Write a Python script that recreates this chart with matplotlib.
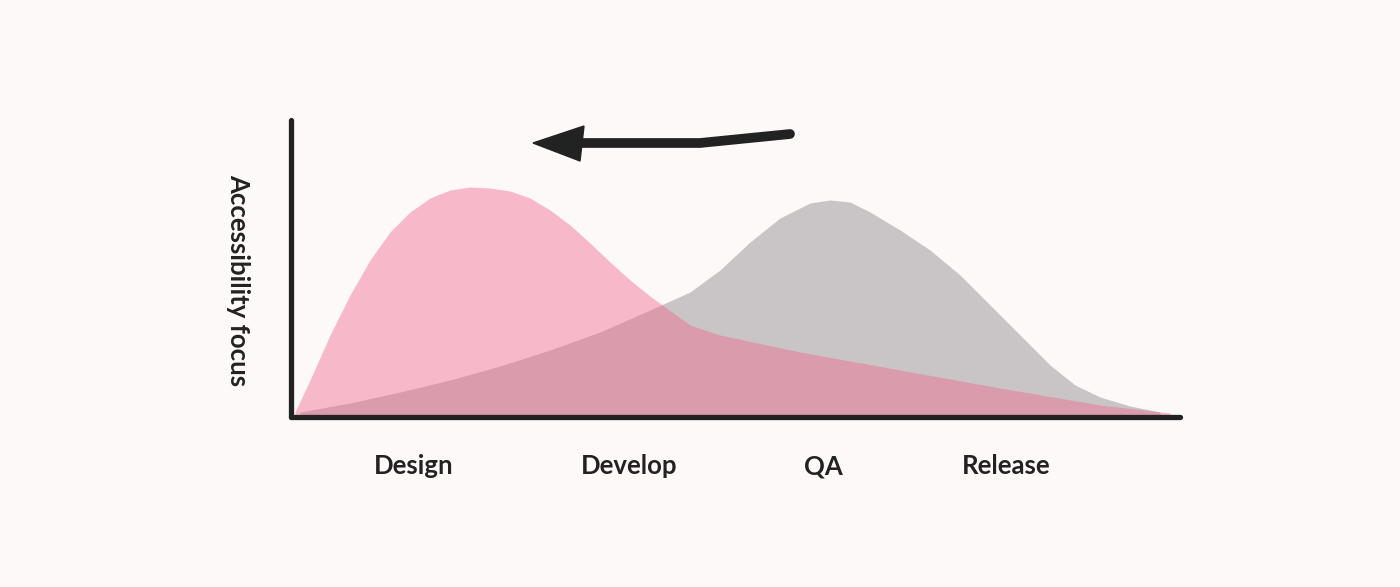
import matplotlib
matplotlib.use("Agg")
import matplotlib.pyplot as plt
from matplotlib.patches import Polygon
from matplotlib.lines import Line2D

design_x = [4, 19, 39, 59, 79, 99, 119, 139, 159, 179, 199, 219, 239, 259, 279, 299, 319, 339, 359, 374, 399, 429, 509, 609, 709, 809, 879]
design_y = [5, 37, 82, 122, 157, 185, 205, 219, 227, 230, 229, 226, 219, 207, 192, 174, 155, 137, 121, 110, 92, 82, 65, 47, 29, 12, 4]
qa_x = [9, 59, 109, 159, 209, 259, 309, 359, 399, 429, 459, 489, 519, 539, 559, 579, 609, 639, 669, 699, 729, 759, 784, 809, 839, 869]
qa_y = [5, 14, 25, 37, 51, 67, 85, 107, 125, 147, 175, 199, 214, 217, 215, 205, 187, 167, 142, 112, 82, 52, 32, 20, 11, 5]
phases = ["Design", "Develop", "QA", "Release"]
phase_px = [414, 629, 823, 1006]

bg = "#fdf9f9"
fig = plt.figure(figsize=(14, 5.87), dpi=100, facecolor=bg)
ax = fig.add_axes([291/1400, (587-417)/587, (1180-291)/1400, (417-120)/587])
ax.set_facecolor(bg)
ax.fill_between(qa_x, 0, qa_y, color="#c9c5c6", lw=0)
ax.fill_between(design_x, 0, design_y, color="#f1648c", alpha=0.43, lw=0)
ax.set_xlim(0, 889)
ax.set_ylim(0, 297)
for s in ["top", "right"]:
    ax.spines[s].set_visible(False)
for s in ["left", "bottom"]:
    ax.spines[s].set_linewidth(3.8)
    ax.spines[s].set_color("#222222")
    ax.spines[s].set_capstyle("round")
ax.set_xticks([]); ax.set_yticks([])

for name, px in zip(phases, phase_px):
    fig.text(px/1400, 1-466/587, name, ha="center", va="center",
             fontsize=18.5, fontweight="bold", family="Lato", color="#222222")
fig.text(238/1400, 1-280/587, "Accessibility focus", rotation=-90, ha="center", va="center",
         fontsize=18.5, fontweight="bold", family="Lato", color="#222222")

def fx(px): return px/1400
def fy(py): return 1-py/587
fig.add_artist(Line2D([fx(790), fx(700), fx(578)], [fy(134), fy(143), fy(143)],
                      lw=7, color="#222222", solid_capstyle="round", transform=fig.transFigure))
fig.add_artist(Polygon([(fx(533), fy(143)), (fx(584), fy(126)), (fx(580), fy(161))],
                       closed=True, color="#222222", transform=fig.transFigure))

fig.savefig("out.png", dpi=100, facecolor=bg)
